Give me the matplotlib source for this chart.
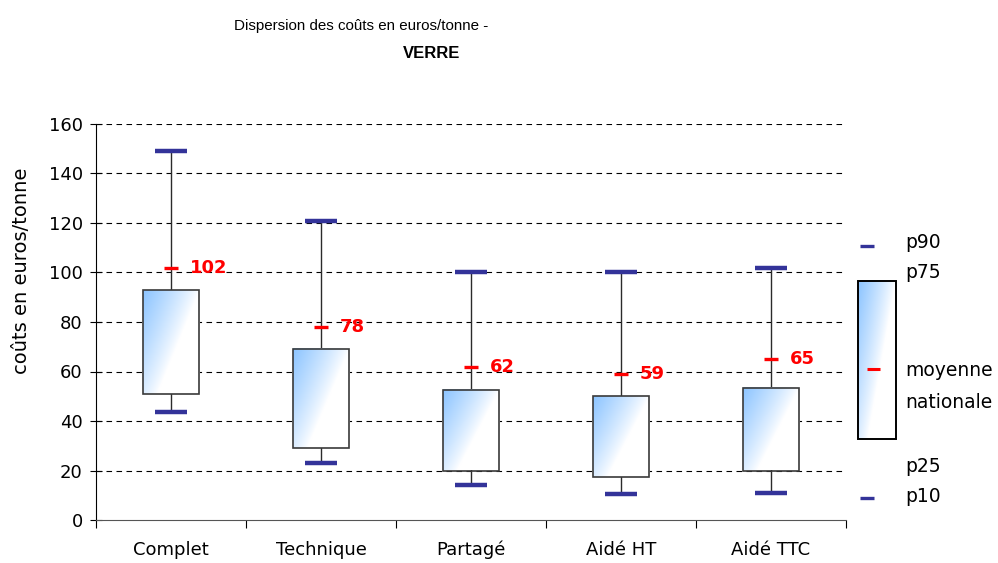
import matplotlib
matplotlib.use("Agg")
import matplotlib.pyplot as plt
from matplotlib.patches import Rectangle
import numpy as np

plt.rcParams['font.family'] = ['DejaVu Sans']

categories = ['Complet', 'Technique', 'Partagé', 'Aidé HT', 'Aidé TTC']
p10 = [43.5, 23, 14, 10.5, 11]
p25 = [51, 29, 20, 17.5, 20]
p75 = [93, 69, 52.5, 50, 53.5]
p90 = [149, 121, 100, 100, 102]
moyenne = [102, 78, 62, 59, 65]

box_blue = np.array([0.55, 0.77, 1.0])
cap_color = '#333399'


def gradient_img():
    # diagonal fade: blue at top-left corner, white towards bottom-right
    xs = np.linspace(0, 1, 60)
    ys = np.linspace(0, 1, 120)
    X, Y = np.meshgrid(xs, ys)
    a = np.clip(1 - (X * 1.0 + Y * 0.75), 0, 1) ** 0.85
    img = np.ones((len(ys), len(xs), 3))
    for k in range(3):
        img[..., k] = 1 - a * (1 - box_blue[k])
    return img


fig = plt.figure(figsize=(9.98, 5.63), dpi=100)
ax = fig.add_axes([96 / 998, 43 / 563, 750 / 998, 396 / 563])

x = np.arange(len(categories)) + 0.5
hw = 0.187   # box half width
cw = 0.107   # cap half width
mw = 0.047   # mean mark half width

for i, xc in enumerate(x):
    ax.plot([xc, xc], [p10[i], p90[i]], color='#2b2b2b', lw=1, zorder=3)
    ax.plot([xc - cw, xc + cw], [p90[i], p90[i]], color=cap_color, lw=3.2,
            solid_capstyle='butt', zorder=5)
    ax.plot([xc - cw, xc + cw], [p10[i], p10[i]], color=cap_color, lw=3.2,
            solid_capstyle='butt', zorder=5)
    ax.imshow(gradient_img(), extent=(xc - hw, xc + hw, p25[i], p75[i]),
              origin='upper', aspect='auto', zorder=4, interpolation='bilinear')
    ax.add_patch(Rectangle((xc - hw, p25[i]), 2 * hw, p75[i] - p25[i],
                           facecolor='none', edgecolor='#3a3a3a', lw=1.2, zorder=6))
    ax.plot([xc - mw, xc + mw], [moyenne[i], moyenne[i]], color='red', lw=2.4,
            solid_capstyle='butt', zorder=7)
    ax.text(xc + 0.125, moyenne[i], str(moyenne[i]), color='red',
            fontsize=13, fontweight='bold', va='center', ha='left', zorder=8)

ax.set_xlim(0, 5)
ax.set_ylim(0, 160)
ax.set_yticks(range(0, 161, 20))
ax.set_xticks(range(0, 6))
ax.set_xticklabels([])
ax.set_xticks(x, minor=True)
ax.set_xticklabels(categories, minor=True, fontsize=13)
ax.tick_params(axis='x', which='major', direction='out', length=6, width=0.8)
ax.tick_params(axis='x', which='minor', length=0, pad=15)
ax.tick_params(axis='y', direction='inout', length=9, width=0.8, labelsize=13, pad=5)
for y in range(20, 161, 20):
    ax.axhline(y, color='black', lw=0.8, dashes=(5, 4), zorder=1)
ax.spines['top'].set_visible(False)
ax.spines['right'].set_visible(False)
ax.spines['bottom'].set_color('#555555')
ax.set_ylabel('coûts en euros/tonne', fontsize=14)
ax.yaxis.set_label_coords(-0.086, 0.63)

# title
fig.text(361 / 998, 1 - 26 / 563, 'Dispersion des coûts en euros/tonne -',
         ha='center', va='center', fontsize=10.9, family='Liberation Sans')
fig.text(432 / 998, 1 - 54 / 563, 'VERRE', ha='center', va='center',
         fontsize=12, fontweight='bold', family='Liberation Sans')

# legend drawn in figure pixel space
lg = fig.add_axes([0, 0, 1, 1], zorder=10)
lg.axis('off')
lg.patch.set_alpha(0)
lg.plot([860, 874], [246, 246], color=cap_color, lw=2.4, solid_capstyle='butt')
lg.plot([860, 874], [498, 498], color=cap_color, lw=2.4, solid_capstyle='butt')
lg.imshow(gradient_img(), extent=(858, 896, 439, 281), origin='upper',
          aspect='auto', interpolation='bilinear')
lg.add_patch(Rectangle((858, 281), 38, 158, facecolor='none', edgecolor='black', lw=1.4))
lg.plot([867, 880], [369, 369], color='red', lw=2.2, solid_capstyle='butt')
lg.set_xlim(0, 998)
lg.set_ylim(563, 0)
for label, yy in [('p90', 243), ('p75', 273), ('moyenne', 371), ('nationale', 402),
                  ('p25', 466), ('p10', 496)]:
    lg.text(905, yy, label, fontsize=13.5, va='center', ha='left')

fig.savefig('out.png', dpi=100)
